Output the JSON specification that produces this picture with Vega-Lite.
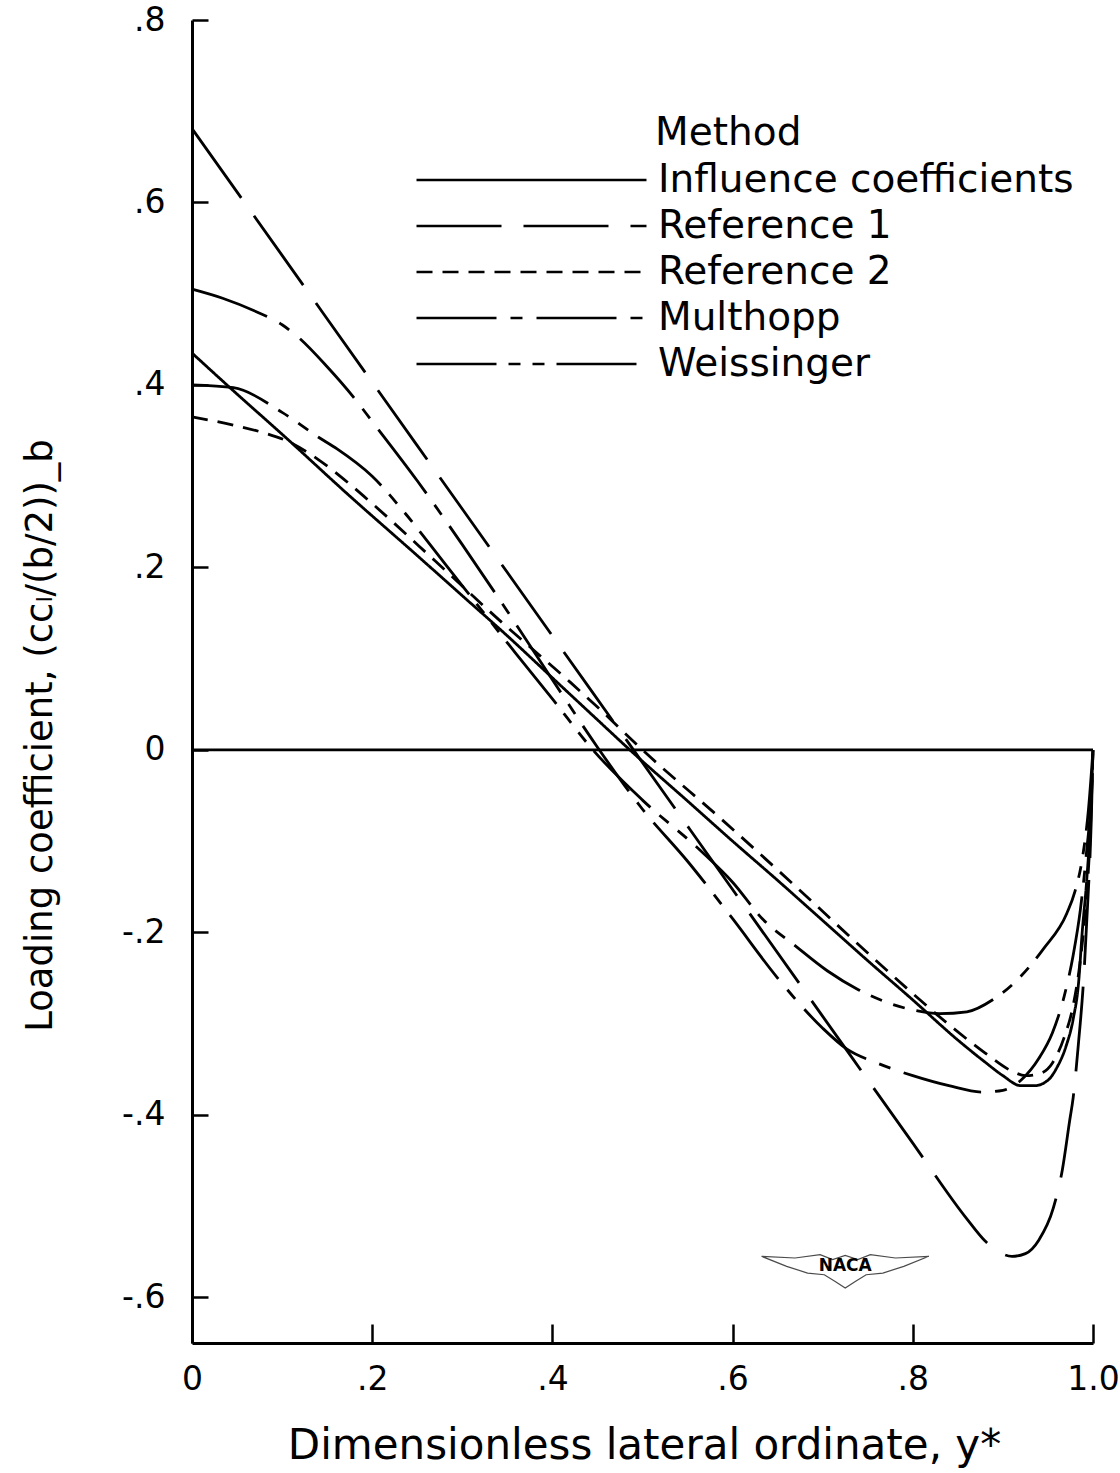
{
  "$schema": "https://vega.github.io/schema/vega-lite/v6.json",
  "width": 901,
  "height": 1323,
  "autosize": {"type": "none"},
  "padding": {"left": 192, "top": 20, "right": 27, "bottom": 130},
  "background": "white",
  "config": {"view": {"stroke": null}, "font": "DejaVu Sans"},
  "layer": [
    {
      "data": {"values": [
        {"method": "Influence coefficients", "x": 0, "y": 0.435},
        {"method": "Influence coefficients", "x": 0.05, "y": 0.39},
        {"method": "Influence coefficients", "x": 0.1, "y": 0.346},
        {"method": "Influence coefficients", "x": 0.172, "y": 0.281},
        {"method": "Influence coefficients", "x": 0.25, "y": 0.213},
        {"method": "Influence coefficients", "x": 0.3, "y": 0.169},
        {"method": "Influence coefficients", "x": 0.35, "y": 0.125},
        {"method": "Influence coefficients", "x": 0.4, "y": 0.079},
        {"method": "Influence coefficients", "x": 0.45, "y": 0.033},
        {"method": "Influence coefficients", "x": 0.486, "y": 0},
        {"method": "Influence coefficients", "x": 0.55, "y": -0.056},
        {"method": "Influence coefficients", "x": 0.6, "y": -0.1},
        {"method": "Influence coefficients", "x": 0.65, "y": -0.143},
        {"method": "Influence coefficients", "x": 0.7, "y": -0.187},
        {"method": "Influence coefficients", "x": 0.75, "y": -0.231},
        {"method": "Influence coefficients", "x": 0.8, "y": -0.274},
        {"method": "Influence coefficients", "x": 0.85, "y": -0.318},
        {"method": "Influence coefficients", "x": 0.88, "y": -0.342},
        {"method": "Influence coefficients", "x": 0.9, "y": -0.357},
        {"method": "Influence coefficients", "x": 0.92, "y": -0.368},
        {"method": "Influence coefficients", "x": 0.935, "y": -0.368},
        {"method": "Influence coefficients", "x": 0.95, "y": -0.362},
        {"method": "Influence coefficients", "x": 0.96, "y": -0.348},
        {"method": "Influence coefficients", "x": 0.97, "y": -0.325},
        {"method": "Influence coefficients", "x": 0.978, "y": -0.295},
        {"method": "Influence coefficients", "x": 0.984, "y": -0.255},
        {"method": "Influence coefficients", "x": 0.988, "y": -0.2},
        {"method": "Influence coefficients", "x": 0.993, "y": -0.143},
        {"method": "Influence coefficients", "x": 0.997, "y": -0.08},
        {"method": "Influence coefficients", "x": 1.0, "y": 0},

        {"method": "Reference 1", "x": 0, "y": 0.681},
        {"method": "Reference 1", "x": 0.1, "y": 0.542},
        {"method": "Reference 1", "x": 0.2, "y": 0.403},
        {"method": "Reference 1", "x": 0.3, "y": 0.264},
        {"method": "Reference 1", "x": 0.4, "y": 0.125},
        {"method": "Reference 1", "x": 0.49, "y": 0.0},
        {"method": "Reference 1", "x": 0.6, "y": -0.153},
        {"method": "Reference 1", "x": 0.7, "y": -0.292},
        {"method": "Reference 1", "x": 0.8, "y": -0.431},
        {"method": "Reference 1", "x": 0.86, "y": -0.514},
        {"method": "Reference 1", "x": 0.88, "y": -0.538},
        {"method": "Reference 1", "x": 0.895, "y": -0.55},
        {"method": "Reference 1", "x": 0.91, "y": -0.555},
        {"method": "Reference 1", "x": 0.925, "y": -0.552},
        {"method": "Reference 1", "x": 0.94, "y": -0.537},
        {"method": "Reference 1", "x": 0.956, "y": -0.502},
        {"method": "Reference 1", "x": 0.966, "y": -0.46},
        {"method": "Reference 1", "x": 0.974, "y": -0.407},
        {"method": "Reference 1", "x": 0.978, "y": -0.381},
        {"method": "Reference 1", "x": 0.984, "y": -0.32},
        {"method": "Reference 1", "x": 0.989, "y": -0.26},
        {"method": "Reference 1", "x": 0.994, "y": -0.17},
        {"method": "Reference 1", "x": 0.998, "y": -0.08},
        {"method": "Reference 1", "x": 1.0, "y": 0},

        {"method": "Reference 2", "x": 0, "y": 0.365},
        {"method": "Reference 2", "x": 0.046, "y": 0.356},
        {"method": "Reference 2", "x": 0.078, "y": 0.348},
        {"method": "Reference 2", "x": 0.109, "y": 0.337},
        {"method": "Reference 2", "x": 0.139, "y": 0.319},
        {"method": "Reference 2", "x": 0.173, "y": 0.293},
        {"method": "Reference 2", "x": 0.2, "y": 0.27},
        {"method": "Reference 2", "x": 0.27, "y": 0.207},
        {"method": "Reference 2", "x": 0.338, "y": 0.145},
        {"method": "Reference 2", "x": 0.42, "y": 0.074},
        {"method": "Reference 2", "x": 0.45, "y": 0.047},
        {"method": "Reference 2", "x": 0.5, "y": 0.0},
        {"method": "Reference 2", "x": 0.59, "y": -0.078},
        {"method": "Reference 2", "x": 0.666, "y": -0.146},
        {"method": "Reference 2", "x": 0.756, "y": -0.228},
        {"method": "Reference 2", "x": 0.845, "y": -0.305},
        {"method": "Reference 2", "x": 0.88, "y": -0.332},
        {"method": "Reference 2", "x": 0.91, "y": -0.352},
        {"method": "Reference 2", "x": 0.925, "y": -0.357},
        {"method": "Reference 2", "x": 0.94, "y": -0.355},
        {"method": "Reference 2", "x": 0.955, "y": -0.343},
        {"method": "Reference 2", "x": 0.968, "y": -0.315},
        {"method": "Reference 2", "x": 0.978, "y": -0.28},
        {"method": "Reference 2", "x": 0.986, "y": -0.23},
        {"method": "Reference 2", "x": 0.992, "y": -0.17},
        {"method": "Reference 2", "x": 0.997, "y": -0.09},
        {"method": "Reference 2", "x": 1.0, "y": 0},

        {"method": "Multhopp", "x": 0, "y": 0.505},
        {"method": "Multhopp", "x": 0.034, "y": 0.495},
        {"method": "Multhopp", "x": 0.072, "y": 0.48},
        {"method": "Multhopp", "x": 0.1, "y": 0.466},
        {"method": "Multhopp", "x": 0.116, "y": 0.454},
        {"method": "Multhopp", "x": 0.15, "y": 0.42},
        {"method": "Multhopp", "x": 0.179, "y": 0.387},
        {"method": "Multhopp", "x": 0.2, "y": 0.36},
        {"method": "Multhopp", "x": 0.25, "y": 0.295},
        {"method": "Multhopp", "x": 0.3, "y": 0.225},
        {"method": "Multhopp", "x": 0.35, "y": 0.152},
        {"method": "Multhopp", "x": 0.4, "y": 0.077},
        {"method": "Multhopp", "x": 0.45, "y": 0.003},
        {"method": "Multhopp", "x": 0.5, "y": -0.065},
        {"method": "Multhopp", "x": 0.55, "y": -0.122},
        {"method": "Multhopp", "x": 0.6, "y": -0.185},
        {"method": "Multhopp", "x": 0.65, "y": -0.25},
        {"method": "Multhopp", "x": 0.7, "y": -0.305},
        {"method": "Multhopp", "x": 0.727, "y": -0.328},
        {"method": "Multhopp", "x": 0.76, "y": -0.343},
        {"method": "Multhopp", "x": 0.8, "y": -0.357},
        {"method": "Multhopp", "x": 0.84, "y": -0.368},
        {"method": "Multhopp", "x": 0.877, "y": -0.375},
        {"method": "Multhopp", "x": 0.9, "y": -0.373},
        {"method": "Multhopp", "x": 0.92, "y": -0.362},
        {"method": "Multhopp", "x": 0.94, "y": -0.338},
        {"method": "Multhopp", "x": 0.955, "y": -0.31},
        {"method": "Multhopp", "x": 0.968, "y": -0.27},
        {"method": "Multhopp", "x": 0.978, "y": -0.225},
        {"method": "Multhopp", "x": 0.986, "y": -0.175},
        {"method": "Multhopp", "x": 0.993, "y": -0.11},
        {"method": "Multhopp", "x": 0.998, "y": -0.05},
        {"method": "Multhopp", "x": 1.0, "y": 0},

        {"method": "Weissinger", "x": 0, "y": 0.4},
        {"method": "Weissinger", "x": 0.046, "y": 0.397},
        {"method": "Weissinger", "x": 0.1, "y": 0.37},
        {"method": "Weissinger", "x": 0.14, "y": 0.343},
        {"method": "Weissinger", "x": 0.161, "y": 0.33},
        {"method": "Weissinger", "x": 0.2, "y": 0.3},
        {"method": "Weissinger", "x": 0.236, "y": 0.26},
        {"method": "Weissinger", "x": 0.28, "y": 0.205},
        {"method": "Weissinger", "x": 0.32, "y": 0.155},
        {"method": "Weissinger", "x": 0.36, "y": 0.105},
        {"method": "Weissinger", "x": 0.4, "y": 0.056},
        {"method": "Weissinger", "x": 0.445, "y": 0.0},
        {"method": "Weissinger", "x": 0.5, "y": -0.055},
        {"method": "Weissinger", "x": 0.564, "y": -0.11},
        {"method": "Weissinger", "x": 0.6, "y": -0.145},
        {"method": "Weissinger", "x": 0.633, "y": -0.185},
        {"method": "Weissinger", "x": 0.67, "y": -0.215},
        {"method": "Weissinger", "x": 0.705, "y": -0.242},
        {"method": "Weissinger", "x": 0.74, "y": -0.263},
        {"method": "Weissinger", "x": 0.775, "y": -0.278},
        {"method": "Weissinger", "x": 0.8, "y": -0.285},
        {"method": "Weissinger", "x": 0.83, "y": -0.289},
        {"method": "Weissinger", "x": 0.86, "y": -0.287},
        {"method": "Weissinger", "x": 0.89, "y": -0.273},
        {"method": "Weissinger", "x": 0.918, "y": -0.25},
        {"method": "Weissinger", "x": 0.945, "y": -0.218},
        {"method": "Weissinger", "x": 0.971, "y": -0.179},
        {"method": "Weissinger", "x": 0.98, "y": -0.155},
        {"method": "Weissinger", "x": 0.988, "y": -0.12},
        {"method": "Weissinger", "x": 0.995, "y": -0.065},
        {"method": "Weissinger", "x": 1.0, "y": 0}
      ]},
      "mark": {"type": "line", "interpolate": "monotone", "stroke": "black", "strokeWidth": 2.8},
      "encoding": {
        "x": {
          "field": "x", "type": "quantitative",
          "scale": {"domain": [0, 1], "nice": false, "zero": false},
          "axis": {
            "values": [0, 0.2, 0.4, 0.6, 0.8, 1],
            "labelExpr": "datum.value == 0 ? '0' : (datum.value == 1 ? '1.0' : '.' + format(datum.value * 10, '.0f'))",
            "labelFlush": false, "labelOverlap": false,
            "grid": false, "domainColor": "black", "domainWidth": 3,
            "tickColor": "black", "tickWidth": 2.5, "tickSize": -19,
            "labelPadding": 39, "labelFontSize": 33, "labelColor": "black", "labelFont": "DejaVu Sans",
            "title": "Dimensionless lateral ordinate, y*",
            "titleFontSize": 42, "titleFontWeight": "normal", "titleColor": "black", "titleFont": "DejaVu Sans",
            "titleX": 452, "titleY": 102, "titleAlign": "center", "titleBaseline": "middle"
          }
        },
        "y": {
          "field": "y", "type": "quantitative",
          "scale": {"domain": [-0.65, 0.8], "nice": false, "zero": false},
          "axis": {
            "values": [-0.6, -0.4, -0.2, 0, 0.2, 0.4, 0.6, 0.8],
            "labelExpr": "datum.value == 0 ? '0' : (datum.value < 0 ? '-' : '') + '.' + format(abs(datum.value) * 10, '.0f')",
            "labelFlush": false, "labelOverlap": false,
            "grid": false, "domainColor": "black", "domainWidth": 3,
            "tickColor": "black", "tickWidth": 2.5, "tickSize": -16,
            "labelPadding": 43, "labelFontSize": 33, "labelColor": "black", "labelFont": "DejaVu Sans",
            "title": "Loading coefficient, (ccₗ/(b/2))_b",
            "titleFontSize": 37, "titleFontWeight": "normal", "titleColor": "black", "titleFont": "DejaVu Sans",
            "titleX": -152, "titleY": 715, "titleAngle": 270, "titleAlign": "center", "titleBaseline": "middle"
          }
        },
        "strokeDash": {
          "field": "method", "type": "nominal",
          "scale": {
            "domain": ["Influence coefficients", "Reference 1", "Reference 2", "Multhopp", "Weissinger"],
            "range": [[1, 0], [85, 22], [16, 10], [80, 14, 12, 14], [80, 12, 12, 12, 12, 12]]
          },
          "legend": {
            "title": null, "orient": "none", "legendX": 223, "legendY": 140,
            "symbolType": "stroke", "symbolSize": 52900, "symbolStrokeWidth": 2.5, "symbolStrokeColor": "black",
            "clipHeight": 40, "rowPadding": 6, "labelFontSize": 39, "labelOffset": 10, "labelLimit": 0,
            "labelColor": "black", "labelFont": "DejaVu Sans"
          }
        }
      }
    },
    {
      "data": {"values": [{}]},
      "mark": {"type": "rule", "stroke": "black", "strokeWidth": 2.8},
      "encoding": {
        "y": {"datum": 0, "type": "quantitative"}
      }
    },
    {
      "data": {"values": [{}]},
      "mark": {"type": "text", "text": "Method", "align": "left", "baseline": "middle", "fontSize": 39, "font": "DejaVu Sans", "color": "black"},
      "encoding": {
        "x": {"datum": 0.514, "type": "quantitative"},
        "y": {"datum": 0.676, "type": "quantitative"}
      }
    },
    {
      "data": {"values": [{}]},
      "mark": {"type": "point", "shape": "M-1,-0.12 L-0.6,-0.1 L-0.3,-0.14 L-0.15,-0.08 L0,-0.13 L0.15,-0.08 L0.3,-0.14 L0.6,-0.1 L1,-0.12 L0.7,0 L0.45,0.08 L0.25,0.1 L0.12,0.18 L0,0.26 L-0.12,0.18 L-0.25,0.1 L-0.45,0.08 L-0.7,0 Z", "size": 28000, "filled": false, "stroke": "black", "strokeWidth": 1.2},
      "encoding": {
        "x": {"datum": 0.725, "type": "quantitative"},
        "y": {"datum": -0.566, "type": "quantitative"}
      }
    },
    {
      "data": {"values": [{}]},
      "mark": {"type": "text", "text": "NACA", "align": "center", "baseline": "middle", "fontSize": 17, "fontWeight": "bold", "font": "DejaVu Sans", "color": "black"},
      "encoding": {
        "x": {"datum": 0.725, "type": "quantitative"},
        "y": {"datum": -0.566, "type": "quantitative"}
      }
    }
  ]
}
